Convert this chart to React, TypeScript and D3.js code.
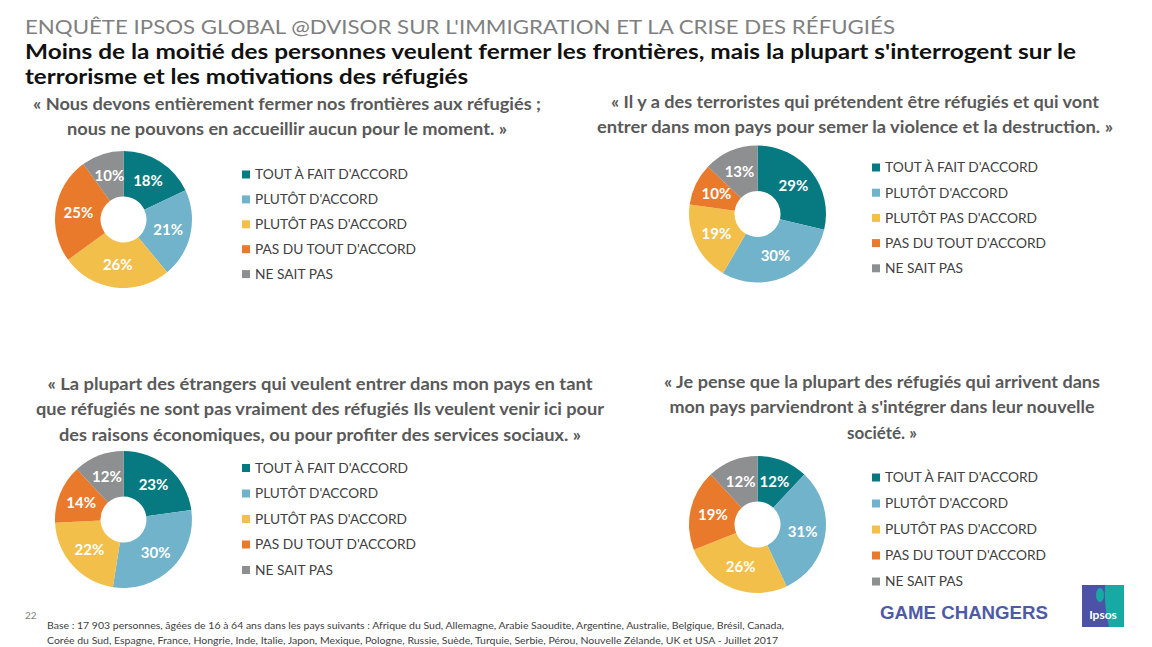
import React from "react";
import * as d3 from "d3";

const categories = [
  "TOUT À FAIT D'ACCORD",
  "PLUTÔT D'ACCORD",
  "PLUTÔT PAS D'ACCORD",
  "PAS DU TOUT D'ACCORD",
  "NE SAIT PAS",
];
const colors = ["#067a80", "#71b3ca", "#f3bf4b", "#e9792b", "#8e8f90"];

const q1Values = [18, 21, 26, 25, 10];
const q2Values = [29, 30, 19, 10, 13];
const q3Values = [23, 30, 22, 14, 12];
const q4Values = [12, 31, 26, 19, 12];

const q1Lines = [
  "« Nous devons entièrement fermer nos frontières aux réfugiés ;",
  "nous ne pouvons en accueillir aucun pour le moment. »",
];
const q2Lines = [
  "« Il y a des terroristes qui prétendent être réfugiés et qui vont",
  "entrer dans mon pays pour semer la violence et la destruction. »",
];
const q3Lines = [
  "« La plupart des étrangers qui veulent entrer dans mon pays en tant",
  "que réfugiés ne sont pas vraiment des réfugiés Ils veulent venir ici pour",
  "des raisons économiques, ou pour profiter des services sociaux. »",
];
const q4Lines = [
  "«  Je pense que la plupart des réfugiés qui arrivent dans",
  "mon pays parviendront à s'intégrer dans leur nouvelle",
  "société. »",
];

const headerText = "ENQUÊTE IPSOS GLOBAL @DVISOR SUR L'IMMIGRATION ET LA CRISE DES RÉFUGIÉS";
const titleLines = [
  "Moins de la moitié des personnes veulent fermer les frontières, mais la plupart s'interrogent sur le",
  "terrorisme et les motivations des réfugiés",
];
const footerLines = [
  "Base : 17 903 personnes, âgées de 16 à 64 ans dans les pays suivants : Afrique du Sud, Allemagne, Arabie Saoudite, Argentine, Australie, Belgique, Brésil, Canada,",
  "Corée du Sud, Espagne, France, Hongrie, Inde, Italie, Japon, Mexique, Pologne, Russie, Suède, Turquie, Serbie, Pérou, Nouvelle Zélande, UK et USA - Juillet 2017",
];

const FONT = "Lato, 'Open Sans', sans-serif";

const legendWidths = [153, 123, 152, 161, 78];

type PanelProps = {
  values: number[];
  cx: number;
  cy: number;
  legendX: number;
  legendY0: number;
  legendStep: number;
  quote: string[];
  quoteX: number;
  quoteY0: number;
  quoteWidths: number[];
};

function Panel({ values, cx, cy, legendX, legendY0, legendStep, quote, quoteX, quoteY0, quoteWidths }: PanelProps) {
  const pie = d3.pie<number>().sort(null).value((d) => d);
  const arcs = pie(values);
  const arc = d3.arc<d3.PieArcDatum<number>>().innerRadius(23).outerRadius(68.5);
  return (
    <g>
      {quote.map((line, i) => (
        <text
          key={i}
          x={quoteX}
          y={quoteY0 + i * 25.3}
          textAnchor="middle"
          fontFamily={FONT}
          fontWeight="bold"
          fontSize={17}
          fill="#595959"
          textLength={quoteWidths[i]}
          lengthAdjust="spacingAndGlyphs"
        >
          {line}
        </text>
      ))}
      <g transform={`translate(${cx},${cy})`}>
        {arcs.map((a, i) => (
          <path key={i} d={arc(a) || ""} fill={colors[i]} />
        ))}
        {arcs.map((a, i) => {
          const [x, y] = arc.centroid(a);
          return (
            <text
              key={"l" + i}
              x={x}
              y={y}
              dy="0.36em"
              textAnchor="middle"
              fontFamily={FONT}
              fontWeight="bold"
              fontSize={15}
              fill="#ffffff"
            >
              {values[i]}%
            </text>
          );
        })}
      </g>
      {categories.map((c, i) => {
        const y = legendY0 + i * legendStep;
        return (
          <g key={c}>
            <rect x={legendX} y={y - 4} width={8} height={8} fill={colors[i]} />
            <text
              x={legendX + 13}
              y={y}
              dy="0.36em"
              fontFamily={FONT}
              fontSize={13.5}
              fill="#404040"
              textLength={legendWidths[i]}
              lengthAdjust="spacingAndGlyphs"
            >
              {c}
            </text>
          </g>
        );
      })}
    </g>
  );
}

export default function App() {
  return (
    <div style={{ position: "absolute", left: 0, top: 0 }}>
      <svg width={1152} height={647} style={{ display: "block", background: "#ffffff" }}>
        <rect width={1152} height={647} fill="#ffffff" />
        <text
          x={25}
          y={33.5}
          fontFamily={FONT}
          fontSize={19}
          fill="#7f7f7f"
          textLength={870}
          lengthAdjust="spacingAndGlyphs"
        >
          {headerText}
        </text>
        <text
          x={25}
          y={58.5}
          fontFamily={FONT}
          fontWeight="bold"
          fontSize={21}
          fill="#111111"
          textLength={1051}
          lengthAdjust="spacingAndGlyphs"
        >
          {titleLines[0]}
        </text>
        <text
          x={25}
          y={83.5}
          fontFamily={FONT}
          fontWeight="bold"
          fontSize={21}
          fill="#111111"
          textLength={443}
          lengthAdjust="spacingAndGlyphs"
        >
          {titleLines[1]}
        </text>

        <Panel
          values={q1Values}
          cx={123.5}
          cy={219.5}
          legendX={242}
          legendY0={174.5}
          legendStep={24.9}
          quote={q1Lines}
          quoteX={287}
          quoteY0={110}
          quoteWidths={[508, 440]}
        />
        <Panel
          values={q2Values}
          cx={757.5}
          cy={214}
          legendX={872}
          legendY0={167.5}
          legendStep={25.2}
          quote={q2Lines}
          quoteX={855}
          quoteY0={108}
          quoteWidths={[488, 516]}
        />
        <Panel
          values={q3Values}
          cx={123.5}
          cy={519.5}
          legendX={242}
          legendY0={468}
          legendStep={25.5}
          quote={q3Lines}
          quoteX={320}
          quoteY0={390}
          quoteWidths={[545, 568, 522]}
        />
        <Panel
          values={q4Values}
          cx={757.5}
          cy={524.5}
          legendX={872}
          legendY0={477.5}
          legendStep={26}
          quote={q4Lines}
          quoteX={882}
          quoteY0={388}
          quoteWidths={[436, 425, 70]}
        />

        <text x={25} y={619} fontFamily={FONT} fontSize={10} fill="#7f7f7f">
          22
        </text>
        {footerLines.map((l, i) => (
          <text
            key={i}
            x={47}
            y={629 + i * 15}
            fontFamily={FONT}
            fontSize={9.5}
            fill="#404040"
            textLength={i === 0 ? 737 : 731}
            lengthAdjust="spacingAndGlyphs"
          >
            {l}
          </text>
        ))}

        <text
          x={880}
          y={619}
          fontFamily="'Liberation Sans', Arial, sans-serif"
          fontWeight="bold"
          fontSize={19}
          fill="#4e5aa6"
          textLength={168}
          lengthAdjust="spacingAndGlyphs"
        >
          GAME CHANGERS
        </text>
        <g>
          <rect x={1082} y={585} width={42} height={42} fill="#4c53a6" />
          <path d="M1105,585 L1124,585 L1124,627 L1109,627 Q1104,606 1105,585 Z" fill="#17aaa5" />
          <ellipse cx={1100} cy={595} rx={4} ry={7} fill="#17aaa5" />
          <text
            x={1103}
            y={619}
            textAnchor="middle"
            fontFamily={FONT}
            fontWeight="bold"
            fontSize={12}
            fill="#ffffff"
          >
            Ipsos
          </text>
        </g>
      </svg>
    </div>
  );
}
